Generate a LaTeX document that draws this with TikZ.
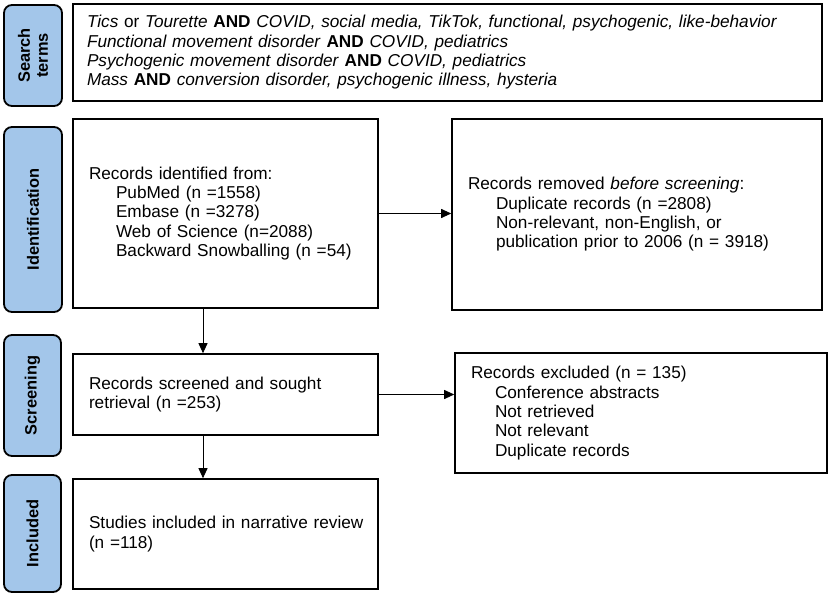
\documentclass[tikz,border=0pt]{standalone}
\usepackage{fontspec}
\setmainfont{Liberation Sans}
\usetikzlibrary{arrows.meta,calc}
\definecolor{sideblue}{HTML}{A3C6EA}
\begin{document}
\begin{tikzpicture}[x=1pt,y=-1pt,
  box/.style={draw=black,line width=1.6pt,rectangle,inner sep=0pt,align=left,
    font=\fontsize{17.2}{19.3}\selectfont},
  side/.style={draw=black,line width=1.8pt,fill=sideblue,rounded corners=8pt,inner sep=0pt,
    align=center,font=\bfseries\fontsize{16.4}{18}\selectfont,rotate=90},
  arr/.style={line width=0.9pt,-{Triangle[length=10pt,width=9pt]}}]
\useasboundingbox (0,0) rectangle (829,596);
% side labels
\node[side,minimum width=101,minimum height=58] (s1) at (33,55.5) {Search\\terms};
\node[side,minimum width=185,minimum height=58] (s2) at (33,219.5) {Identification};
\node[side,minimum width=121,minimum height=57] (s3) at (32.5,395.5) {Screening};
\node[side,minimum width=117,minimum height=57] (s4) at (32.5,533.5) {Included};
% main boxes
\node[box,minimum width=749,minimum height=97,text width=721] (terms) at (447.5,52.5)
 {\textit{Tics} or \textit{Tourette} \textbf{AND} \textit{COVID, social media, TikTok, functional, psychogenic, like-behavior}\\
  \textit{Functional movement disorder} \textbf{AND} \textit{COVID, pediatrics}\\
  \textit{Psychogenic movement disorder} \textbf{AND} \textit{COVID, pediatrics}\\
  \textit{Mass} \textbf{AND} \textit{conversion disorder, psychogenic illness, hysteria}};
\node[box,minimum width=305,minimum height=189,text width=273] (ident) at (225.5,213.5)
 {Records identified from:\\
  \hspace*{27pt}PubMed (n =1558)\\
  \hspace*{27pt}Embase (n =3278)\\
  \hspace*{27pt}Web of Science (n=2088)\\
  \hspace*{27pt}Backward Snowballing (n =54)};
\node[box,minimum width=370,minimum height=191,text width=338] (removed) at (637,214.5)
 {Records removed \textit{before screening}:\\
  \hspace*{28pt}Duplicate records (n =2808)\\
  \hspace*{28pt}Non-relevant, non-English, or\\
  \hspace*{28pt}publication prior to 2006 (n = 3918)};
\node[box,minimum width=305,minimum height=81,text width=273] (screen) at (225.5,394.5)
 {Records screened and sought\\retrieval (n =253)};
\node[box,minimum width=372,minimum height=120,text width=340] (excl) at (641,413)
 {Records excluded (n = 135)\\
  \hspace*{24pt}Conference abstracts\\
  \hspace*{24pt}Not retrieved\\
  \hspace*{24pt}Not relevant\\
  \hspace*{24pt}Duplicate records};
\node[box,minimum width=305,minimum height=110,text width=273] (incl) at (225.5,534)
 {\mbox{Studies included in narrative review}\\(n =118)};
% connectors
\draw[arr] (ident.east) -- (removed.west |- ident.east);
\draw[arr] ([xshift=-22.5pt]ident.south) -- ([xshift=-22.5pt]screen.north);
\draw[arr] (screen.east) -- (excl.west |- screen.east);
\draw[arr] ([xshift=-22.5pt]screen.south) -- ([xshift=-22.5pt]incl.north);
\end{tikzpicture}
\end{document}
